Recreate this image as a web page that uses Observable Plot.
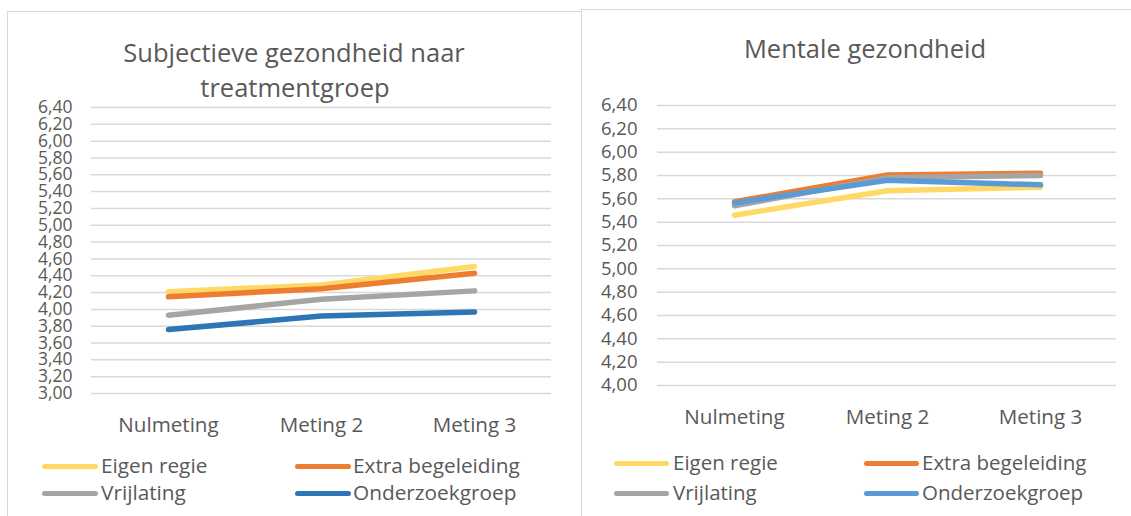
<!DOCTYPE html>
<html>
<head>
<meta charset="utf-8">
<script src="https://cdn.jsdelivr.net/npm/d3@7"></script>
<script src="https://cdn.jsdelivr.net/npm/@observablehq/plot@0.6"></script>
<style>
  html, body { margin: 0; padding: 0; background: #fff; }
  #page { position: relative; width: 1131px; height: 516px; overflow: hidden; font-family: "Open Sans", sans-serif; color: #595959; }
  .box { position: absolute; border: 1.5px solid #d9d9d9; box-sizing: border-box; }
  .abs { position: absolute; white-space: nowrap; }
  .title { font-size: 25.5px; line-height: 35px; transform: translateX(-50%); }
  .sw { position: absolute; height: 5px; border-radius: 3px; }
  .lt { position: absolute; white-space: nowrap; line-height: 26px; }
  svg { position: absolute; }
</style>
</head>
<body>
<div id="page"></div>
<script>
const categories = ["Nulmeting", "Meting 2", "Meting 3"];
const series = ["Eigen regie", "Extra begeleiding", "Vrijlating", "Onderzoekgroep"];

// Subjectieve gezondheid naar treatmentgroep
const subjEigenRegie = [4.21, 4.29, 4.51];
const subjExtraBegeleiding = [4.15, 4.245, 4.43];
const subjVrijlating = [3.93, 4.12, 4.22];
const subjOnderzoekgroep = [3.76, 3.92, 3.97];
const subjTicks = [3.0, 3.2, 3.4, 3.6, 3.8, 4.0, 4.2, 4.4, 4.6, 4.8, 5.0, 5.2, 5.4, 5.6, 5.8, 6.0, 6.2, 6.4];

// Mentale gezondheid
const mentEigenRegie = [5.46, 5.67, 5.70];
const mentExtraBegeleiding = [5.575, 5.805, 5.82];
const mentVrijlating = [5.54, 5.78, 5.80];
const mentOnderzoekgroep = [5.565, 5.76, 5.72];
const mentTicks = [4.0, 4.2, 4.4, 4.6, 4.8, 5.0, 5.2, 5.4, 5.6, 5.8, 6.0, 6.2, 6.4];

const colorsLeft = ["#FFD966", "#ED7D31", "#A5A5A5", "#2E75B6"];
const colorsRight = ["#FFD966", "#ED7D31", "#A5A5A5", "#5B9BD5"];

function toRows(lists) {
  const rows = [];
  lists.forEach((vals, si) => vals.forEach((v, ci) => rows.push({series: series[si], cat: categories[ci], value: v})));
  return rows;
}
const fmt = d => d.toFixed(2).replace(".", ",");

const page = document.getElementById("page");

function addBox(l, t, w, h) {
  const b = document.createElement("div");
  b.className = "box";
  Object.assign(b.style, {left: l + "px", top: t + "px", width: w + "px", height: h + "px"});
  page.appendChild(b);
}
function addText(cls, text, l, t, extra = {}) {
  const d = document.createElement("div");
  d.className = cls;
  d.textContent = text;
  Object.assign(d.style, {left: l + "px", top: t + "px"}, extra);
  page.appendChild(d);
}
function addLegend(colors, swX, txtX, rowsY, swW, fontSize) {
  series.forEach((s, i) => {
    const col = i % 2, y = rowsY[Math.floor(i / 2)];
    const sw = document.createElement("div");
    sw.className = "sw";
    Object.assign(sw.style, {left: swX[col] + "px", top: (y - 2.5) + "px", width: swW + "px", background: colors[i]});
    page.appendChild(sw);
    addText("lt", s, txtX[col], y - 14, {fontSize: fontSize + "px"});
  });
}

addBox(7, 11, 575, 530);
addBox(581, 9, 600, 530);

// Left chart
const left = Plot.plot({
  width: 580, height: 516,
  marginLeft: 91, marginRight: 29, marginTop: 107, marginBottom: 123,
  style: {fontFamily: "Open Sans", color: "#595959", background: "transparent", overflow: "visible"},
  x: {type: "point", domain: categories, padding: 0.5, label: null},
  y: {domain: [3, 6.4], label: null},
  color: {domain: series, range: colorsLeft},
  marks: [
    Plot.ruleY(subjTicks, {stroke: "#d9d9d9", strokeWidth: 1.5}),
    Plot.axisY({ticks: subjTicks, tickSize: 0, tickPadding: 19, tickFormat: fmt, fontSize: 17.5, label: null}),
    Plot.axisX({tickSize: 0, tickPadding: 24, fontSize: 20.6, label: null}),
    Plot.lineY(toRows([subjEigenRegie, subjExtraBegeleiding, subjVrijlating, subjOnderzoekgroep]),
      {x: "cat", y: "value", z: "series", stroke: "series", strokeWidth: 5.5, strokeLinecap: "round", strokeLinejoin: "round"})
  ]
});
left.style.left = "0px"; left.style.top = "0px";
page.appendChild(left);

// Right chart
const right = Plot.plot({
  width: 556, height: 516,
  marginLeft: 82, marginRight: 15, marginTop: 105, marginBottom: 131,
  style: {fontFamily: "Open Sans", color: "#595959", background: "transparent", overflow: "visible"},
  x: {type: "point", domain: categories, padding: 0.5, label: null},
  y: {domain: [4, 6.4], label: null},
  color: {domain: series, range: colorsRight},
  marks: [
    Plot.ruleY(mentTicks, {stroke: "#d9d9d9", strokeWidth: 1.5}),
    Plot.axisY({ticks: mentTicks, tickSize: 0, tickPadding: 20, tickFormat: fmt, fontSize: 18.5, label: null}),
    Plot.axisX({tickSize: 0, tickPadding: 24, fontSize: 20.6, label: null}),
    Plot.lineY(toRows([mentEigenRegie, mentExtraBegeleiding, mentVrijlating, mentOnderzoekgroep]),
      {x: "cat", y: "value", z: "series", stroke: "series", strokeWidth: 5.5, strokeLinecap: "round", strokeLinejoin: "round"})
  ]
});
right.style.left = "575px"; right.style.top = "0px";
page.appendChild(right);

// Titles
addText("abs title", "Subjectieve gezondheid naar", 294, 52 - 17.5);
addText("abs title", "treatmentgroep", 295, 87 - 17.5);
addText("abs title", "Mentale gezondheid", 865, 48 - 17.5);

// Legends
addLegend(colorsLeft, [42, 295], [101, 353], [466, 493], 56, 20.8);
addLegend(colorsRight, [614, 864], [673, 922], [463, 493], 55, 20.5);
</script>
</body>
</html>
